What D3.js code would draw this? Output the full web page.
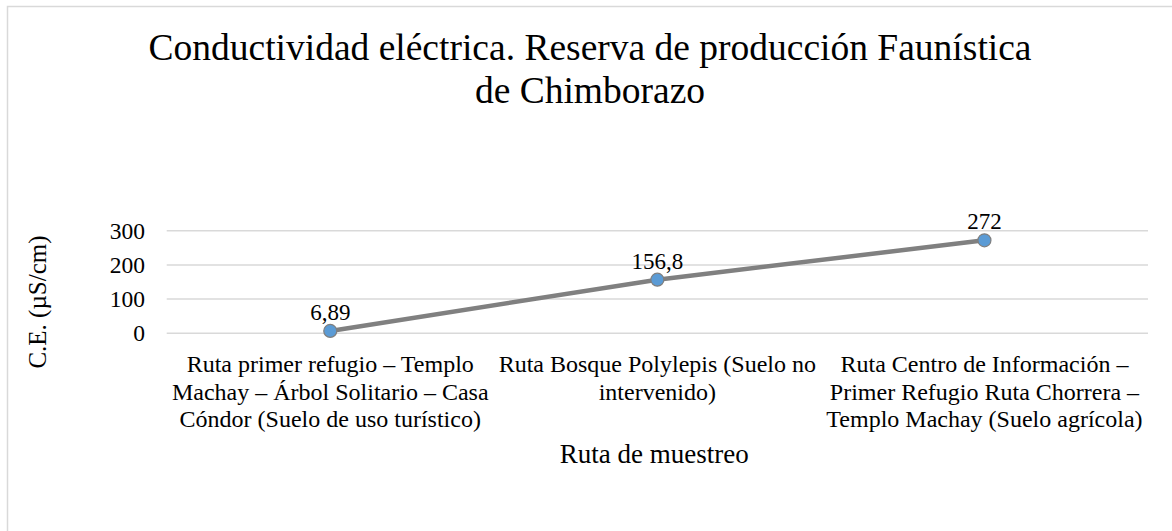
<!DOCTYPE html>
<html><head><meta charset="utf-8">
<script src="https://cdn.jsdelivr.net/npm/d3@7"></script>
<style>html,body{margin:0;padding:0;background:#fff;}svg{display:block;}</style>
</head><body>
<script>
const categories = [
  ["Ruta primer refugio – Templo", "Machay – Árbol Solitario – Casa", "Cóndor (Suelo de uso turístico)"],
  ["Ruta Bosque Polylepis (Suelo no", "intervenido)"],
  ["Ruta Centro de Información –", "Primer Refugio Ruta Chorrera –", "Templo Machay (Suelo agrícola)"]
];
const values = [6.89, 156.8, 272];
const valueLabels = ["6,89", "156,8", "272"];
const yTicks = [0, 100, 200, 300];
const titleLines = ["Conductividad eléctrica. Reserva de producción Faunística", "de Chimborazo"];
const xTitle = "Ruta de muestreo";
const yTitle = "C.E. (µS/cm)";

const W = 1172, H = 531;
const font = "'Liberation Serif','Times New Roman',serif";
const svg = d3.select("body").append("svg").attr("width", W).attr("height", H);

svg.append("rect").attr("x", 7.5).attr("y", 6.5).attr("width", 1300).attr("height", 700)
  .attr("fill", "#fff").attr("stroke", "#d9d9d9").attr("stroke-width", 1.5);

const plot = {left: 166.7, right: 1148, top: 230.7, bottom: 333.3};
const x = d3.scaleBand().domain(d3.range(categories.length)).range([plot.left, plot.right]);
const y = d3.scaleLinear().domain([0, 300]).range([plot.bottom, plot.top]);

// title
const t = svg.append("text").attr("text-anchor", "middle").attr("font-family", font)
  .attr("font-size", 37.5).attr("fill", "#000");
titleLines.forEach((l, i) => t.append("tspan").attr("x", 590).attr("y", 60 + i * 43).text(l));

// gridlines
svg.append("g").selectAll("line").data(yTicks).join("line")
  .attr("x1", plot.left).attr("x2", plot.right)
  .attr("y1", d => y(d)).attr("y2", d => y(d))
  .attr("stroke", "#d9d9d9").attr("stroke-width", 1.5);

// y axis labels
const yAxis = d3.axisLeft(y).tickValues(yTicks).tickSize(0).tickPadding(0).tickFormat(d3.format("d"));
const ya = svg.append("g").attr("transform", `translate(145,0)`).call(yAxis);
ya.select(".domain").remove();
ya.selectAll("text").attr("font-family", font).attr("font-size", 23.5).attr("fill", "#000");

// x axis category labels
const xg = svg.append("g");
categories.forEach((lines, i) => {
  const tx = xg.append("text").attr("text-anchor", "middle").attr("font-family", font)
    .attr("font-size", 24).attr("fill", "#000");
  lines.forEach((l, j) => tx.append("tspan").attr("x", x(i) + x.bandwidth() / 2).attr("y", 372 + j * 27.5).text(l));
});

// axis titles
svg.append("text").attr("x", (plot.left + plot.right) / 2 - 3).attr("y", 463).attr("text-anchor", "middle")
  .attr("font-family", font).attr("font-size", 27).attr("fill", "#000").text(xTitle);
svg.append("text").attr("transform", `translate(46,302) rotate(-90)`)
  .attr("text-anchor", "middle").attr("font-family", font).attr("font-size", 25).attr("fill", "#000").text(yTitle);

// line
const cx = i => x(i) + x.bandwidth() / 2;
const line = d3.line().x((d, i) => cx(i)).y(d => y(d));
svg.append("path").datum(values).attr("d", line).attr("fill", "none")
  .attr("stroke", "#808080").attr("stroke-width", 4.5).attr("stroke-linecap", "round");

svg.append("g").selectAll("circle").data(values).join("circle")
  .attr("cx", (d, i) => cx(i)).attr("cy", d => y(d)).attr("r", 6.5)
  .attr("fill", "#5b9bd5").attr("stroke", "#7f7f7f").attr("stroke-width", 1.2);

svg.append("g").selectAll("text").data(values).join("text")
  .attr("x", (d, i) => cx(i)).attr("y", d => y(d) - 11).attr("text-anchor", "middle")
  .attr("font-family", font).attr("font-size", 23).attr("fill", "#000")
  .text((d, i) => valueLabels[i]);
</script>
</body></html>
